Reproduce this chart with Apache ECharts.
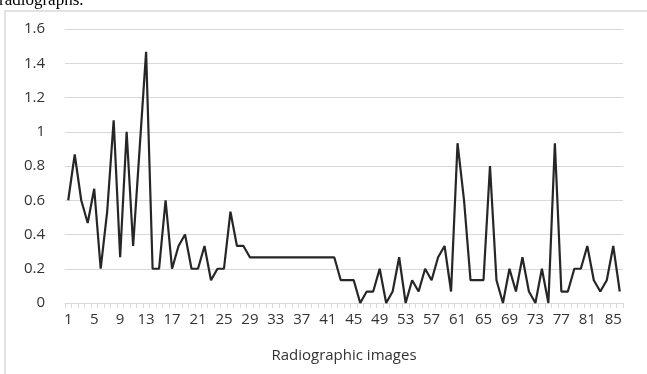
<!DOCTYPE html>
<html>
<head>
<meta charset="utf-8">
<script src="https://cdn.jsdelivr.net/npm/echarts@6/dist/echarts.min.js"></script>
<style>
  html, body { margin: 0; padding: 0; background: #fff; }
  #chart { width: 647px; height: 374px; }
</style>
</head>
<body>
<div id="chart"></div>
<script>
// image index 1..86
const images = []
for (let i = 1; i <= 86; i++) images.push(String(i))

// values (mostly multiples of 1/15)
const values = [
  0.6, 0.867, 0.6, 0.467, 0.667, 0.2, 0.533, 1.067, 0.267, 1.0,
  0.333, 0.9, 1.467, 0.2, 0.2, 0.6, 0.2, 0.333, 0.4, 0.2,
  0.2, 0.333, 0.133, 0.2, 0.2, 0.533, 0.333, 0.333, 0.267, 0.267,
  0.267, 0.267, 0.267, 0.267, 0.267, 0.267, 0.267, 0.267, 0.267, 0.267,
  0.267, 0.267, 0.133, 0.133, 0.133, 0, 0.067, 0.067, 0.2, 0,
  0.067, 0.267, 0, 0.133, 0.067, 0.2, 0.133, 0.267, 0.333, 0.067,
  0.933, 0.6, 0.133, 0.133, 0.133, 0.8, 0.133, 0, 0.2, 0.067,
  0.267, 0.067, 0, 0.2, 0, 0.933, 0.067, 0.067, 0.2, 0.2,
  0.333, 0.133, 0.067, 0.133, 0.333, 0.067
]

const myChart = echarts.init(document.getElementById('chart'))
const labelColor = '#333'
const lineGray = '#d9d9d9'

const option = {
  animation: false,
  graphic: [
    {
      type: 'rect',
      shape: { x: 5, y: 11, width: 700, height: 420 },
      style: { fill: 'none', stroke: lineGray, lineWidth: 1.5 }
    },
    {
      type: 'text',
      style: {
        text: 'radiographs.',
        x: -1,
        y: 9,
        textVerticalAlign: 'bottom',
        font: '17px "Liberation Serif", serif',
        fill: '#000'
      }
    }
  ],
  grid: {
    left: 65,
    right: 24,
    top: 29,
    bottom: 71
  },
  xAxis: {
    type: 'category',
    data: images,
    boundaryGap: true,
    name: 'Radiographic images',
    nameLocation: 'middle',
    nameGap: 45,
    nameTextStyle: { color: labelColor, fontSize: 15, fontFamily: 'Open Sans' },
    axisLine: { lineStyle: { color: lineGray, width: 1 } },
    axisTick: { show: true, interval: 0, length: 5, lineStyle: { color: lineGray } },
    axisLabel: {
      interval: 3,
      margin: 9,
      color: labelColor,
      fontSize: 15,
      fontFamily: 'Open Sans'
    },
    splitLine: { show: false }
  },
  yAxis: {
    type: 'value',
    min: 0,
    max: 1.6,
    interval: 0.2,
    axisLine: { show: false },
    axisTick: { show: false },
    axisLabel: {
      margin: 20,
      color: labelColor,
      fontSize: 15,
      fontFamily: 'Open Sans'
    },
    splitLine: { lineStyle: { color: lineGray, width: 1 } }
  },
  series: [
    {
      type: 'line',
      data: values,
      symbol: 'none',
      lineStyle: { color: '#262626', width: 2.2 }
    }
  ]
}
myChart.setOption(option)
</script>
</body>
</html>
